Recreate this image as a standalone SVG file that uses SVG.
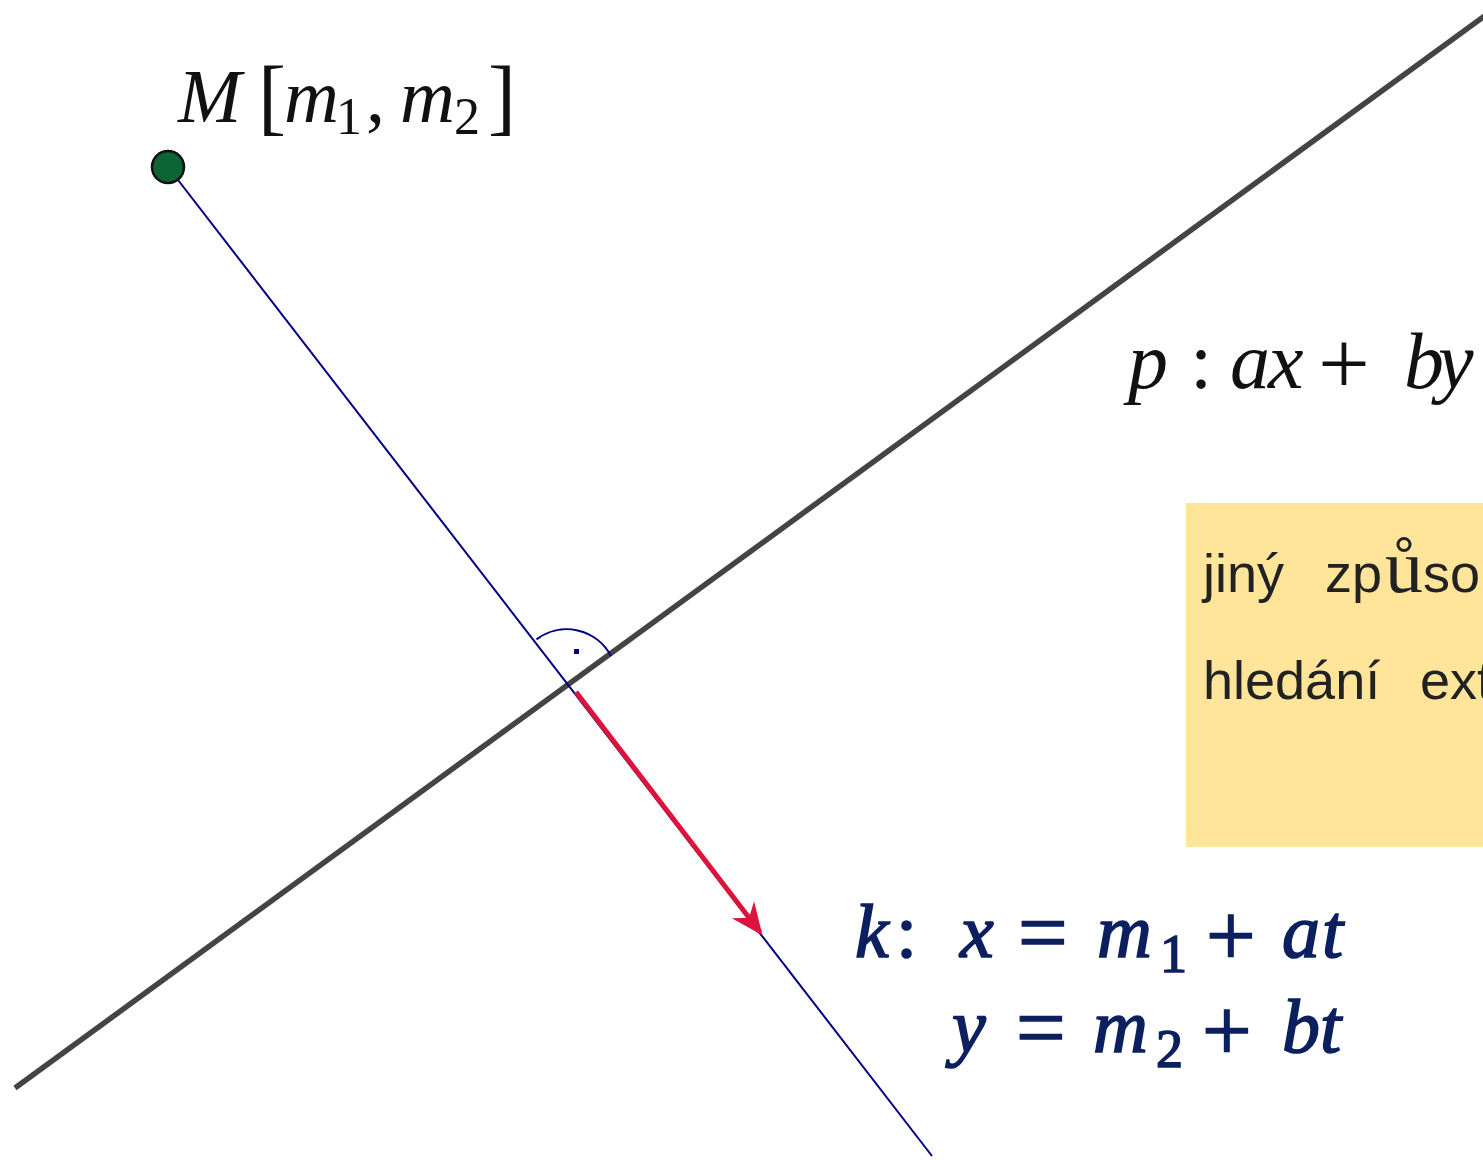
<svg xmlns="http://www.w3.org/2000/svg" width="1483" height="1160" viewBox="0 0 1483 1160">
  <style>
    .tex { font-family: "Liberation Serif", "DejaVu Serif", serif; fill: #111; }
    .it { font-style: italic; }
    .eq { font-family: "Liberation Serif", "DejaVu Serif", serif; font-style: italic; fill: #0c2060; stroke: #0c2060; stroke-width: 1.6; }
    .up { font-style: normal; }
    .op { font-style: normal; font-size: 88px; }
    .note { font-family: "Liberation Sans", Arial, sans-serif; font-size: 54px; fill: #222; }
  </style>
  <defs>
    <marker id="arrowRed" markerWidth="10" markerHeight="10" refX="0" refY="0" orient="auto" markerUnits="userSpaceOnUse" overflow="visible">
      <path d="M 4 0 L -28 -14 L -18 0 L -28 14 Z" fill="#dc143c"/>
    </marker>
  </defs>
  <rect width="1483" height="1160" fill="#ffffff"/>

  <g id="connectors">
    <line id="line-p" x1="15" y1="1088" x2="1490" y2="12" stroke="#444444" stroke-width="5.5"/>
    <line id="line-k" x1="168" y1="167" x2="932" y2="1156" stroke="#000080" stroke-width="2"/>
    <line id="vector-n" x1="576" y1="692" x2="760" y2="932" stroke="#dc143c" stroke-width="5" marker-end="url(#arrowRed)"/>
    <g id="right-angle">
      <path d="M 536.5 639.4 A 50 50 0 0 1 611 656" fill="none" stroke="#000080" stroke-width="2"/>
      <rect x="574" y="649" width="5" height="5" fill="#000080"/>
    </g>
  </g>

  <g id="point-M">
    <circle cx="168" cy="167" r="16" fill="#0b6534" stroke="#111" stroke-width="2.5"/>
  </g>

  <g id="label-M">
    <text class="tex" font-size="76" y="122">
      <tspan x="178" class="it">M</tspan><tspan x="258" font-size="84" y="125">[</tspan><tspan x="284" y="122" class="it">m</tspan><tspan x="336" y="134" font-size="52">1</tspan><tspan x="366" y="122">,</tspan><tspan x="400" class="it">m</tspan><tspan x="454" y="134" font-size="52">2</tspan><tspan x="488" y="125" font-size="84">]</tspan>
    </text>
  </g>

  <g id="label-p">
    <text class="tex" font-size="80" y="388">
      <tspan x="1128" class="it">p</tspan><tspan x="1190">:</tspan><tspan x="1230" class="it">a</tspan><tspan x="1268" class="it">x</tspan><tspan x="1318" font-size="92" y="394">+</tspan><tspan x="1404" y="388" class="it">b</tspan><tspan x="1438" class="it">y</tspan>
    </text>
  </g>

  <g id="note-box">
    <rect x="1186" y="503" width="310" height="344" fill="#ffe599"/>
    <text class="note" y="592"><tspan x="1203">jiný</tspan><tspan x="1325">zp</tspan><tspan x="1385" font-family="Liberation Serif, serif" font-size="76">ů</tspan><tspan x="1423">so</tspan></text>
    <text class="note" y="699"><tspan x="1203">hledání</tspan><tspan x="1420">ext</tspan></text>
  </g>

  <g id="label-k">
    <text class="eq" font-size="76" y="957">
      <tspan x="855">k</tspan><tspan x="896" class="up">:</tspan><tspan x="960">x</tspan><tspan x="1018" class="op" y="962">=</tspan><tspan x="1097" y="957">m</tspan><tspan x="1160" y="972" font-size="54" class="up">1</tspan><tspan x="1206" class="op" y="965">+</tspan><tspan x="1282" y="957">a</tspan><tspan x="1322">t</tspan>
    </text>
    <text class="eq" font-size="76" y="1052">
      <tspan x="952">y</tspan><tspan x="1016" class="op" y="1057">=</tspan><tspan x="1093" y="1052">m</tspan><tspan x="1156" y="1067" font-size="54" class="up">2</tspan><tspan x="1202" class="op" y="1060">+</tspan><tspan x="1282" y="1052">b</tspan><tspan x="1320">t</tspan>
    </text>
  </g>
</svg>
